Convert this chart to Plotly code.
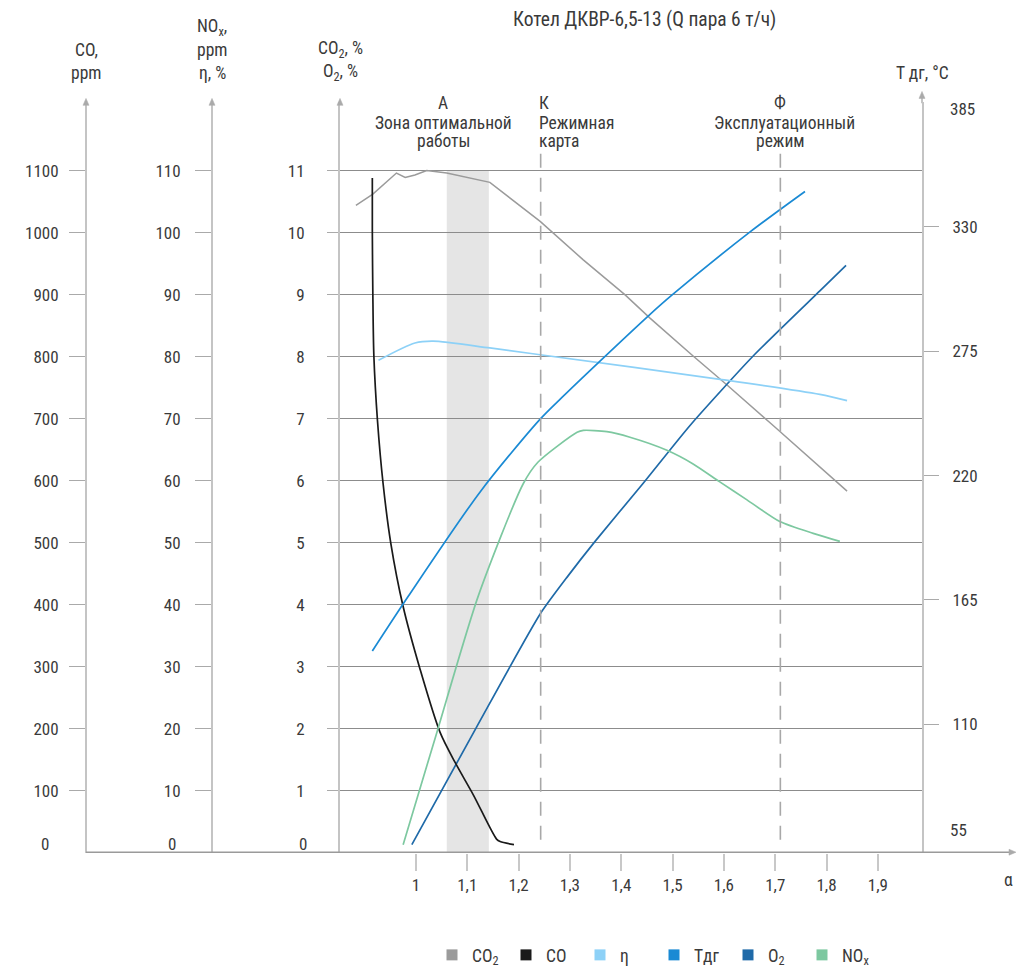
import plotly.graph_objects as go

# ---------------- data ----------------
alpha_co2 = [0.883, 0.916, 0.962, 0.979, 0.998, 1.021, 1.06, 1.144, 1.242, 1.326, 1.407, 1.456, 1.540, 1.605, 1.696, 1.840]
co2 = [10.44, 10.62, 10.96, 10.89, 10.93, 11.0, 10.96, 10.81, 10.18, 9.56, 9.0, 8.62, 8.01, 7.55, 6.89, 5.83]

alpha_co = [0.915, 0.915, 0.916, 0.918, 0.925, 0.936, 0.951, 0.975, 1.008, 1.047, 1.076, 1.112, 1.157, 1.164, 1.191]
co = [1088, 1002, 900, 801, 697, 595, 499, 397, 296, 194, 146, 93, 22, 18, 13]

alpha_eta = [0.927, 0.998, 1.033, 1.144, 1.242, 1.596, 1.787, 1.840]
eta = [79.4, 82.2, 82.5, 81.4, 80.3, 76.3, 73.9, 72.9]

alpha_t = [0.915, 0.985, 1.125, 1.242, 1.284, 1.355, 1.453, 1.498, 1.651, 1.758]
t_dg = [142.4, 166.6, 212.8, 245.0, 254.5, 269.9, 290.7, 299.7, 327.8, 345.7]

alpha_o2 = [0.992, 1.117, 1.242, 1.296, 1.349, 1.442, 1.534, 1.657, 1.787, 1.838]
o2 = [0.13, 2.01, 3.85, 4.46, 5.02, 5.95, 6.89, 8.01, 9.06, 9.47]

alpha_nox = [0.975, 1.040, 1.121, 1.209, 1.238, 1.314, 1.326, 1.372, 1.417, 1.489, 1.540, 1.592, 1.645, 1.709, 1.774, 1.826]
nox = [1.3, 19.2, 41.3, 59.5, 63.0, 67.8, 68.1, 67.9, 67.0, 64.9, 62.7, 59.8, 56.9, 53.4, 51.5, 50.2]

x_ticks = [1.0, 1.1, 1.2, 1.3, 1.4, 1.5, 1.6, 1.7, 1.8, 1.9]
x_ticktext = ["1", "1,1", "1,2", "1,3", "1,4", "1,5", "1,6", "1,7", "1,8", "1,9"]
co2_ticks = list(range(1, 12))
co_ticks = [100 * v for v in co2_ticks]
nox_ticks = [10 * v for v in co2_ticks]
t_ticks = [110, 165, 220, 275, 330]

zone_a = [1.06, 1.142]
k_line = 1.243
f_line = 1.71

# ---------------- style ----------------
W, H = 1024, 973
FONT = "Roboto Condensed, Liberation Sans Narrow, Roboto, sans-serif"
TXT = "#3a3a3a"
FS = 17.5
TFS = 17
C_CO2 = "#9b9b9b"
C_CO = "#1a1a1a"
C_ETA = "#8dd1f7"
C_T = "#1a8ad4"
C_O2 = "#1f6aa8"
C_NOX = "#7dc8a0"
AX = "#c4c4c4"
GRID = "#8c8c8c"
ARW = "#aaaaaa"


def px(x):
    return x / W


def py(y):
    return 1 - y / H


Y_BOT, Y_TOP = py(858), py(103)
CO2_MAX = 12.1
T_MIN, T_MAX = 53.2, 53.2 + 27.43 * CO2_MAX
X_MIN, X_MAX = 0.852, 1.986

fig = go.Figure()

LW = 1.7
fig.add_trace(go.Scatter(x=alpha_co2, y=co2, mode="lines", line=dict(color=C_CO2, width=1.5),
                         yaxis="y", showlegend=False))
fig.add_trace(go.Scatter(x=alpha_co, y=co, mode="lines", line=dict(color=C_CO, width=LW, shape="spline", smoothing=0.8),
                         yaxis="y2", showlegend=False))
fig.add_trace(go.Scatter(x=alpha_eta, y=eta, mode="lines", line=dict(color=C_ETA, width=LW, shape="spline", smoothing=0.8),
                         yaxis="y3", showlegend=False))
fig.add_trace(go.Scatter(x=alpha_t, y=t_dg, mode="lines", line=dict(color=C_T, width=LW, shape="spline", smoothing=0.8),
                         yaxis="y4", showlegend=False))
fig.add_trace(go.Scatter(x=alpha_o2, y=o2, mode="lines", line=dict(color=C_O2, width=LW, shape="spline", smoothing=0.6),
                         yaxis="y", showlegend=False))
fig.add_trace(go.Scatter(x=alpha_nox, y=nox, mode="lines", line=dict(color=C_NOX, width=LW, shape="spline", smoothing=0.7),
                         yaxis="y3", showlegend=False))

# legend entries (square swatches)
for name, col in [("CO<sub>2</sub>", C_CO2), ("CO", C_CO), ("η", C_ETA), ("Tдг", C_T),
                  ("O<sub>2</sub>", C_O2), ("NO<sub>x</sub>", C_NOX)]:
    fig.add_trace(go.Scatter(x=[None], y=[None], mode="markers", name=name,
                             marker=dict(symbol="square", size=11, color=col)))

common_y = dict(ticks="outside", tickcolor="#aaaaaa", tickwidth=1, showline=True, linecolor=AX,
                linewidth=2, zeroline=False, tickfont=dict(family=FONT, size=TFS, color=TXT))

fig.update_layout(
    width=W, height=H,
    margin=dict(l=0, r=0, t=0, b=0),
    paper_bgcolor="white", plot_bgcolor="white",
    font=dict(family=FONT, size=FS, color=TXT),
    xaxis=dict(domain=[px(340), px(922)], range=[X_MIN, X_MAX], tickvals=x_ticks, ticktext=x_ticktext,
               ticks="outside", ticklen=17, tickcolor="#c8c8c8", tickwidth=1.5, showgrid=False,
               showline=False, zeroline=False, anchor="y", ticklabelstandoff=0,
               tickfont=dict(family=FONT, size=TFS, color=TXT)),
    yaxis=dict(domain=[Y_BOT, Y_TOP], range=[0, CO2_MAX], tickvals=co2_ticks, ticklen=11,
               showgrid=True, gridcolor=GRID, gridwidth=1, ticklabelstandoff=19, **common_y),
    yaxis2=dict(domain=[Y_BOT, Y_TOP], range=[0, CO2_MAX * 100], tickvals=co_ticks, ticklen=16,
                overlaying="y", anchor="free", position=px(86), showgrid=False, ticklabelstandoff=7,
                **common_y),
    yaxis3=dict(domain=[Y_BOT, Y_TOP], range=[0, CO2_MAX * 10], tickvals=nox_ticks, ticklen=16,
                overlaying="y", anchor="free", position=px(212), showgrid=False, ticklabelstandoff=11,
                **common_y),
    yaxis4=dict(domain=[Y_BOT, Y_TOP], range=[T_MIN, T_MAX], tickvals=t_ticks, ticklen=15,
                overlaying="y", anchor="x", side="right", showgrid=False, ticklabelstandoff=10,
                **common_y),
    legend=dict(orientation="h", x=px(432), xanchor="left", y=py(961), yanchor="middle",
                entrywidth=29, entrywidthmode="pixels",
                font=dict(family=FONT, size=FS, color=TXT), itemclick=False, bgcolor="rgba(0,0,0,0)"),
)

shapes = []
# optimal zone band
shapes.append(dict(type="rect", xref="x", yref="y", x0=zone_a[0], x1=zone_a[1], y0=0, y1=11,
                   fillcolor="#e5e5e5", line=dict(width=0), layer="below"))
# dashed vertical lines
for xv in (k_line, f_line):
    shapes.append(dict(type="line", xref="x", yref="paper", x0=xv, x1=xv, y0=py(845), y1=py(152),
                       line=dict(color="#a8a8a8", width=1.6, dash="14px,10px")))
# bottom baseline
shapes.append(dict(type="line", xref="paper", yref="paper", x0=px(86), x1=px(1012), y0=py(857.5), y1=py(857.5),
                   line=dict(color="#9a9a9a", width=1.5)))
# right axis extension
shapes.append(dict(type="line", xref="paper", yref="paper", x0=px(922), x1=px(922), y0=py(104), y1=py(96),
                   line=dict(color=AX, width=2)))


def up_arrow(xc, ytip):
    return dict(type="path", xref="paper", yref="paper",
                path=f"M {px(xc - 3)},{py(ytip + 7)} L {px(xc)},{py(ytip)} L {px(xc + 3)},{py(ytip + 7)} Z",
                fillcolor=ARW, line=dict(color=ARW, width=0.5))


for ax_x, tip in [(86, 99), (212, 99), (340, 99), (922, 92)]:
    shapes.append(up_arrow(ax_x, tip))
shapes.append(dict(type="path", xref="paper", yref="paper",
                   path=f"M {px(1009)},{py(854.5)} L {px(1016)},{py(857.5)} L {px(1009)},{py(860.5)} Z",
                   fillcolor=ARW, line=dict(color=ARW, width=0.5)))
fig.update_layout(shapes=shapes)

ann = []


def text(x, y, s, xanchor="center", size=FS):
    ann.append(dict(x=px(x), y=py(y), xref="paper", yref="paper", text=s, showarrow=False,
                    xanchor=xanchor, yanchor="middle", font=dict(family=FONT, size=size, color=TXT)))


text(644, 20, "Котел ДКВР-6,5-13 (Q пара 6 т/ч)", size=19.5)
text(86, 50, "CO,")
text(86, 73, "ppm")
text(212, 28, "NO<sub>x</sub>,")
text(212, 50, "ppm")
text(212, 73, "η, %")
text(340, 50, "CO<sub>2</sub>, %")
text(340, 73, "O<sub>2</sub>, %")
text(922, 73, "T дг, °C")
text(443, 104, "А")
text(443, 124, "Зона оптимальной")
text(443, 142, "работы")
text(537, 104, "К", xanchor="left")
text(537, 124, "Режимная", xanchor="left")
text(537, 142, "карта", xanchor="left")
text(780, 104, "Ф")
text(784, 124, "Эксплуатационный")
text(780, 142, "режим")
text(1008, 885, "α")
# zero labels and end labels
text(45, 849, "0", size=TFS)
text(172, 849, "0", size=TFS)
text(303, 849, "0", size=TFS)
text(948, 835, "55", xanchor="left", size=TFS)
text(948, 110, "385", xanchor="left", size=TFS)

fig.update_layout(annotations=ann)

post = (
    "document.documentElement.style.margin='0';"
    "document.body.style.margin='0';"
    "document.body.style.overflow='hidden';"
)
fig.write_html("out.html", config={"displayModeBar": False}, post_script=post)
